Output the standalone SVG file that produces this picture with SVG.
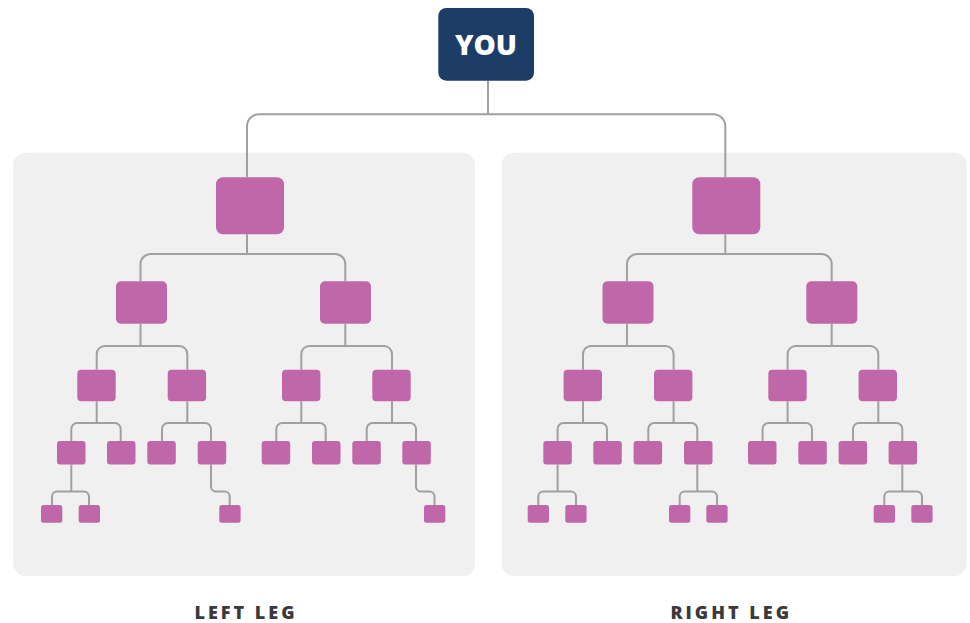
<svg xmlns="http://www.w3.org/2000/svg" width="970" height="623" viewBox="0 0 970 623">
<style>
.panel{fill:#f0f0f0}
.n{fill:#bf67a8}
.c{fill:none;stroke:#a0a0a0;stroke-width:2}
.you{fill:#1b3d66}
.yt{font-family:"Open Sans","Liberation Sans",sans-serif;font-weight:800;font-size:28px;fill:#ffffff;text-anchor:middle}
.lbl{font-family:"Open Sans","Liberation Sans",sans-serif;font-weight:800;font-size:18px;letter-spacing:3px;fill:#3a3a3a;text-anchor:middle}
</style>
<rect width="970" height="623" fill="#ffffff"/>
<g id="panels">
<rect class="panel" x="13.3" y="152.7" width="461.7" height="423.3" rx="12"/>
<rect class="panel" x="501.7" y="152.7" width="465" height="423.3" rx="12"/>
</g>
<g id="connectors">
<path class="c" d="M488,80.7 V114.3 M247,177.3 V126.3 A12,12 0 0 1 259,114.3 H713.3 A12,12 0 0 1 725.3,126.3 V177.3"/>
<path class="c" d="M247,234.3 V254 M140.5,281.3 V264 A10,10 0 0 1 150.5,254 H335.3 A10,10 0 0 1 345.3,264 V281.3"/>
<path class="c" d="M725.3,234.3 V254 M627,281.3 V264 A10,10 0 0 1 637,254 H821.7 A10,10 0 0 1 831.7,264 V281.3"/>
<path class="c" d="M140.5,323.7 V346 M96.7,369.7 V354 A8,8 0 0 1 104.7,346 H179.3 A8,8 0 0 1 187.3,354 V369.7"/>
<path class="c" d="M345.3,323.7 V346 M301.3,369.7 V354 A8,8 0 0 1 309.3,346 H384 A8,8 0 0 1 392,354 V369.7"/>
<path class="c" d="M627,323.7 V346 M583,369.7 V354 A8,8 0 0 1 591,346 H665.6 A8,8 0 0 1 673.6,354 V369.7"/>
<path class="c" d="M831.7,323.7 V346 M787.6,369.7 V354 A8,8 0 0 1 795.6,346 H870.3 A8,8 0 0 1 878.3,354 V369.7"/>
<path class="c" d="M96.7,401.3 V423 M71.3,441 V429 A6,6 0 0 1 77.3,423 H114.7 A6,6 0 0 1 120.7,429 V441"/>
<path class="c" d="M187.3,401.3 V423 M162,441 V429 A6,6 0 0 1 168,423 H205 A6,6 0 0 1 211,429 V441"/>
<path class="c" d="M301.3,401.3 V423 M276.3,441 V429 A6,6 0 0 1 282.3,423 H319.7 A6,6 0 0 1 325.7,429 V441"/>
<path class="c" d="M392,401.3 V423 M366.7,441 V429 A6,6 0 0 1 372.7,423 H410 A6,6 0 0 1 416,429 V441"/>
<path class="c" d="M583,401.3 V423 M557.6,441 V429 A6,6 0 0 1 563.6,423 H601 A6,6 0 0 1 607,429 V441"/>
<path class="c" d="M673.6,401.3 V423 M648.3,441 V429 A6,6 0 0 1 654.3,423 H691.3 A6,6 0 0 1 697.3,429 V441"/>
<path class="c" d="M787.6,401.3 V423 M762.6,441 V429 A6,6 0 0 1 768.6,423 H806 A6,6 0 0 1 812,429 V441"/>
<path class="c" d="M878.3,401.3 V423 M853,441 V429 A6,6 0 0 1 859,423 H896.3 A6,6 0 0 1 902.3,429 V441"/>
<path class="c" d="M71.3,464.5 V491.5 M52,505 V496.5 A5,5 0 0 1 57,491.5 H84 A5,5 0 0 1 89,496.5 V505"/>
<path class="c" d="M211,464.5 V486.5 A5,5 0 0 0 216,491.5 H224.7 A5,5 0 0 1 229.7,496.5 V505"/>
<path class="c" d="M416,464.5 V486.5 A5,5 0 0 0 421,491.5 H429.5 A5,5 0 0 1 434.5,496.5 V505"/>
<path class="c" d="M557.6,464.5 V491.5 M538.3,505 V496.5 A5,5 0 0 1 543.3,491.5 H571 A5,5 0 0 1 576,496.5 V505"/>
<path class="c" d="M697.3,464.5 V491.5 M679.7,505 V496.5 A5,5 0 0 1 684.7,491.5 H712 A5,5 0 0 1 717,496.5 V505"/>
<path class="c" d="M902.3,464.5 V491.5 M884.3,505 V496.5 A5,5 0 0 1 889.3,491.5 H917 A5,5 0 0 1 922,496.5 V505"/>
</g>
<g id="you"><rect class="you" x="438.3" y="8" width="95.7" height="72.7" rx="8"/><text class="yt" x="486" y="55">YOU</text></g>
<g id="left-l1"><rect class="n" x="216" y="177.3" width="68" height="57" rx="7"/></g>
<g id="left-l2a"><rect class="n" x="116" y="281.3" width="51" height="42.4" rx="5"/></g>
<g id="left-l2b"><rect class="n" x="320" y="281.3" width="51" height="42.4" rx="5"/></g>
<g id="left-l3a"><rect class="n" x="77.3" y="369.7" width="38.4" height="31.6" rx="4"/></g>
<g id="left-l3b"><rect class="n" x="167.7" y="369.7" width="38.4" height="31.6" rx="4"/></g>
<g id="left-l3c"><rect class="n" x="282" y="369.7" width="38.4" height="31.6" rx="4"/></g>
<g id="left-l3d"><rect class="n" x="372.3" y="369.7" width="38.4" height="31.6" rx="4"/></g>
<g id="left-l4a"><rect class="n" x="57" y="441" width="28.5" height="23.5" rx="3"/></g>
<g id="left-l4b"><rect class="n" x="107" y="441" width="28.5" height="23.5" rx="3"/></g>
<g id="left-l4c"><rect class="n" x="147.3" y="441" width="28.5" height="23.5" rx="3"/></g>
<g id="left-l4d"><rect class="n" x="197.7" y="441" width="28.5" height="23.5" rx="3"/></g>
<g id="left-l4e"><rect class="n" x="261.7" y="441" width="28.5" height="23.5" rx="3"/></g>
<g id="left-l4f"><rect class="n" x="312" y="441" width="28.5" height="23.5" rx="3"/></g>
<g id="left-l4g"><rect class="n" x="352.3" y="441" width="28.5" height="23.5" rx="3"/></g>
<g id="left-l4h"><rect class="n" x="402.3" y="441" width="28.5" height="23.5" rx="3"/></g>
<g id="left-l5a"><rect class="n" x="41" y="505" width="21.3" height="17.7" rx="2.5"/></g>
<g id="left-l5b"><rect class="n" x="78.7" y="505" width="21.3" height="17.7" rx="2.5"/></g>
<g id="left-l5c"><rect class="n" x="219.3" y="505" width="21.3" height="17.7" rx="2.5"/></g>
<g id="left-l5d"><rect class="n" x="424" y="505" width="21.3" height="17.7" rx="2.5"/></g>
<g id="right-l1"><rect class="n" x="692.3" y="177.3" width="68" height="57" rx="7"/></g>
<g id="right-l2a"><rect class="n" x="602.5" y="281.3" width="51" height="42.4" rx="5"/></g>
<g id="right-l2b"><rect class="n" x="806.3" y="281.3" width="51" height="42.4" rx="5"/></g>
<g id="right-l3a"><rect class="n" x="563.6" y="369.7" width="38.4" height="31.6" rx="4"/></g>
<g id="right-l3b"><rect class="n" x="654" y="369.7" width="38.4" height="31.6" rx="4"/></g>
<g id="right-l3c"><rect class="n" x="768.3" y="369.7" width="38.4" height="31.6" rx="4"/></g>
<g id="right-l3d"><rect class="n" x="858.6" y="369.7" width="38.4" height="31.6" rx="4"/></g>
<g id="right-l4a"><rect class="n" x="543.3" y="441" width="28.5" height="23.5" rx="3"/></g>
<g id="right-l4b"><rect class="n" x="593.3" y="441" width="28.5" height="23.5" rx="3"/></g>
<g id="right-l4c"><rect class="n" x="633.6" y="441" width="28.5" height="23.5" rx="3"/></g>
<g id="right-l4d"><rect class="n" x="684" y="441" width="28.5" height="23.5" rx="3"/></g>
<g id="right-l4e"><rect class="n" x="748" y="441" width="28.5" height="23.5" rx="3"/></g>
<g id="right-l4f"><rect class="n" x="798.3" y="441" width="28.5" height="23.5" rx="3"/></g>
<g id="right-l4g"><rect class="n" x="838.6" y="441" width="28.5" height="23.5" rx="3"/></g>
<g id="right-l4h"><rect class="n" x="888.6" y="441" width="28.5" height="23.5" rx="3"/></g>
<g id="right-l5a"><rect class="n" x="527.7" y="505" width="21.3" height="17.7" rx="2.5"/></g>
<g id="right-l5b"><rect class="n" x="565.3" y="505" width="21.3" height="17.7" rx="2.5"/></g>
<g id="right-l5c"><rect class="n" x="669" y="505" width="21.3" height="17.7" rx="2.5"/></g>
<g id="right-l5d"><rect class="n" x="706.3" y="505" width="21.3" height="17.7" rx="2.5"/></g>
<g id="right-l5e"><rect class="n" x="873.7" y="505" width="21.3" height="17.7" rx="2.5"/></g>
<g id="right-l5f"><rect class="n" x="911.3" y="505" width="21.3" height="17.7" rx="2.5"/></g>
<g id="labels">
<text class="lbl" x="246" y="618.5">LEFT LEG</text>
<text class="lbl" x="731.2" y="618.5">RIGHT LEG</text>
</g>
</svg>
